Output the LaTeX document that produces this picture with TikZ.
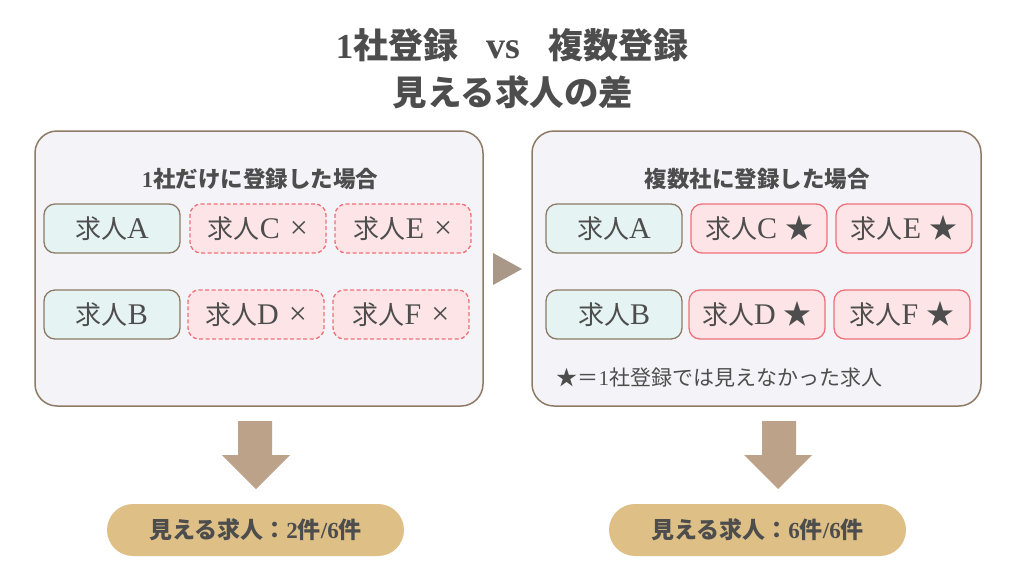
\documentclass[tikz,border=0pt]{standalone}
\usepackage{fontspec}
\newfontfamily\cjk{Noto Sans CJK JP}
\newfontfamily\lat{Liberation Serif}
\definecolor{panelfill}{HTML}{F4F3F8}
\definecolor{panelline}{HTML}{8E7B66}
\definecolor{okfill}{HTML}{E5F3F2}
\definecolor{okline}{HTML}{8B7B66}
\definecolor{ngfill}{HTML}{FDE5E7}
\definecolor{ngline}{HTML}{F0707A}
\definecolor{tri}{HTML}{A99887}
\definecolor{darrow}{HTML}{BBA289}
\definecolor{pill}{HTML}{DEC087}
\definecolor{txt}{HTML}{4D4D4D}
\newcommand{\latbig}[1]{{\lat\fontsize{30}{30}\selectfont #1}}
\newcommand{\crossmk}{\hspace{10pt}{\lat\fontsize{32}{30}\selectfont ×}}
\newcommand{\starmk}{\hspace{8pt}{\fontsize{28}{30}\selectfont ★}}
\begin{document}
\begin{tikzpicture}[x=1pt,y=-1pt,
  panel/.style={draw=panelline, fill=panelfill, line width=1.5pt, rounded corners=22pt, minimum height=275pt, inner sep=0pt},
  jobbox/.style={minimum width=136pt, minimum height=49pt, inner sep=0pt, rounded corners=11pt, line width=1.3pt, text=txt, font=\cjk\fontsize{26}{30}\selectfont},
  jobok/.style={jobbox, draw=okline, fill=okfill},
  jobng/.style={jobbox, draw=ngline, fill=ngfill, dash pattern=on 4pt off 2.5pt},
  jobnew/.style={jobbox, draw=ngline, fill=ngfill},
  subttl/.style={text=txt, font=\cjk\bfseries\fontsize{22.5}{26}\selectfont},
  pillbox/.style={fill=pill, rounded corners=26pt, minimum width=297pt, minimum height=52pt, inner sep=0pt, text=txt, font=\cjk\bfseries\fontsize{23}{26}\selectfont},
  arrowshape/.style={fill=darrow, draw=none}
]
\useasboundingbox[fill=white] (0,0) rectangle (1024,576);

% title
\node[text=txt, font=\cjk\bfseries\fontsize{35}{40}\selectfont] (t1) at (512,45) {{\lat\bfseries 1}社登録\hspace{0.8em}{\lat\bfseries\fontsize{38}{40}\selectfont vs}\hspace{0.8em}複数登録};
\node[text=txt, font=\cjk\bfseries\fontsize{34.5}{40}\selectfont] (t2) at (513,92) {見える求人の差};

% panels
\node[panel, minimum width=448pt] (lp) at (259,268.5) {};
\node[panel, minimum width=449pt] (rp) at (756.5,268.5) {};

\node[subttl] (ls) at (260,179) {{\lat\bfseries 1}社だけに登録した場合};
\node[subttl] (rs) at (757,179) {複数社に登録した場合};

% left jobs
\node[jobok] (la) at (112,228.5) {求人\latbig{A}};
\node[jobng] (lc) at (258,228.5) {求人\latbig{C}\crossmk};
\node[jobng] (le) at (403,228.5) {求人\latbig{E}\crossmk};
\node[jobok] (lb) at (112,314.5) {求人\latbig{B}};
\node[jobng] (ld) at (256,314.5) {求人\latbig{D}\crossmk};
\node[jobng] (lf) at (401,314.5) {求人\latbig{F}\crossmk};

% right jobs
\node[jobok] (ra) at (614,228.5) {求人\latbig{A}};
\node[jobnew] (rc) at (759,228.5) {求人\latbig{C}\starmk};
\node[jobnew] (re) at (904,228.5) {求人\latbig{E}\starmk};
\node[jobok] (rb) at (614,314.5) {求人\latbig{B}};
\node[jobnew] (rd) at (757,314.5) {求人\latbig{D}\starmk};
\node[jobnew] (rf) at (902,314.5) {求人\latbig{F}\starmk};

\node[anchor=west, text=txt, font=\cjk\fontsize{21}{24}\selectfont] (note) at (553,378) {★＝{\lat 1}社登録では見えなかった求人};

% middle triangle
\fill[tri] (493,253) -- (522,269) -- (493,285) -- cycle;

% down arrows
\fill[arrowshape] (238,421) -- (272,421) -- (272,455) -- (290,455) -- (256,489) -- (222,455) -- (238,455) -- cycle;
\fill[arrowshape] (762,421) -- (796,421) -- (796,455) -- (812,455) -- (778,489) -- (744,455) -- (762,455) -- cycle;

% results
\node[pillbox] (lr) at (255.5,530) {見える求人：{\lat\bfseries 2}件{\lat\bfseries /6}件};
\node[pillbox] (rr) at (757.5,530) {見える求人：{\lat\bfseries 6}件{\lat\bfseries /6}件};
\end{tikzpicture}
\end{document}
